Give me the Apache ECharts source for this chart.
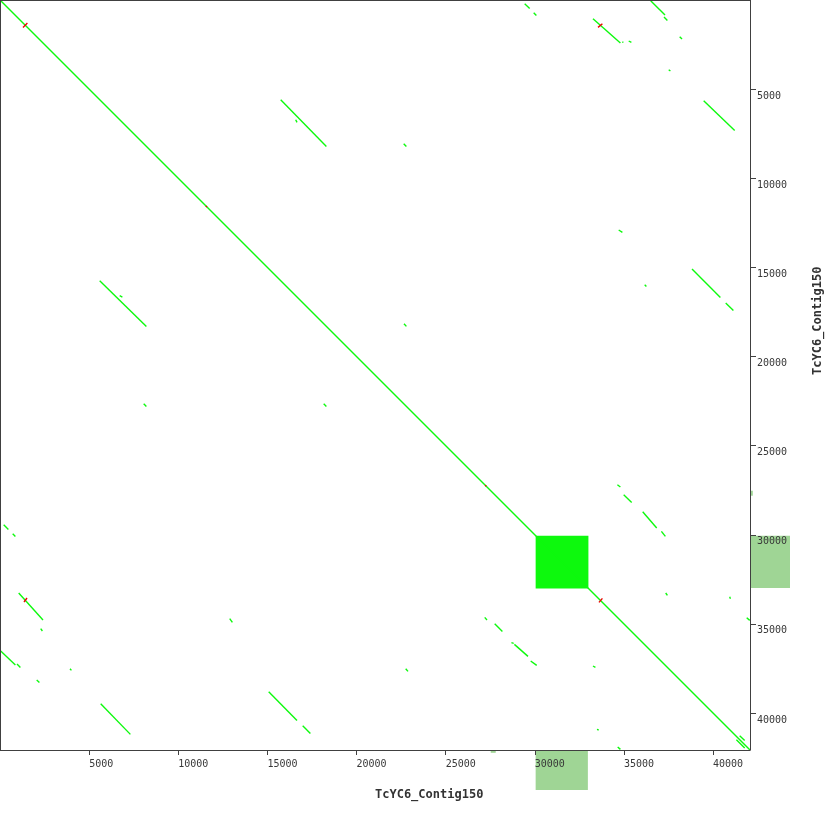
<!DOCTYPE html>
<html><head><meta charset="utf-8">
<script src="https://cdn.jsdelivr.net/npm/echarts@6/dist/echarts.min.js"></script>
<style>html,body{margin:0;padding:0;background:#fff}#c{width:830px;height:830px}</style>
</head><body><div id="c"></div>
<script>
// Sequence length (both axes: self comparison of TcYC6_Contig150)
const seqName = 'TcYC6_Contig150';
const seqLength = 42075;
const tickStep = 5000;

// Forward matches (green): [x1, y1, x2, y2]
const forwardHits = [
  [0, 0, 42075, 42075],
  [29435, 208, 29716, 471], [29940, 712, 30091, 864],
  [208, 29435, 471, 29700], [712, 29940, 864, 30091],
  [33267, 1049, 34804, 2412], [34920, 2330, 34960, 2390], [35270, 2300, 35421, 2379],
  [1049, 33267, 2412, 34782], [2283, 35270, 2379, 35399],
  [36504, 39, 37306, 842], [37250, 954, 37441, 1144],
  [39, 36520, 864, 37306], [954, 37250, 1144, 37441],
  [38131, 2059, 38260, 2188], [2059, 38148, 2210, 38283],
  [37514, 3910, 37610, 3983], [3927, 37514, 4006, 37610],
  [39477, 5649, 41216, 7315], [5649, 39477, 7315, 41199],
  [15747, 5593, 18311, 8213], [16589, 6715, 16662, 6866],
  [5593, 15747, 8213, 18311], [6715, 16589, 6866, 16662],
  [22647, 8062, 22798, 8213], [8062, 22647, 8213, 22798],
  [18159, 22647, 18311, 22798], [22664, 18159, 22798, 18311],
  [34709, 12903, 34916, 13037], [12886, 34709, 13037, 34916],
  [36168, 15972, 36263, 16067],
  [38821, 15091, 40414, 16684], [40712, 16998, 41144, 17413],
  [15074, 38805, 16662, 40414], [16981, 40712, 17413, 41144],
  [22759, 37514, 22889, 37666],
  [34636, 27192, 34804, 27321], [34989, 27753, 35438, 28185],
  [36055, 28707, 36841, 29621], [37104, 29812, 37329, 30093],
  [37346, 33267, 37441, 33402], [40936, 33475, 40975, 33587],
  [41890, 34653, 42060, 34804],
  [27192, 34636, 27321, 34782], [27753, 34989, 28185, 35421],
  [28690, 36055, 28819, 36094], [28858, 36150, 29621, 36824], [29772, 37082, 30109, 37329],
  [33267, 37363, 33402, 37441], [33492, 40919, 33587, 40953],
  [34653, 41906, 34804, 42040],
  [41312, 41497, 41778, 41963], [41497, 41273, 41778, 41537]
];

// Reverse matches (red): [x1, y1, x2, y2]
const reverseHits = [
  [1290, 1537, 1537, 1290],
  [33548, 1537, 33795, 1330],
  [1346, 33772, 1515, 33548],
  [33604, 33795, 33795, 33570],
  [11550, 11610, 11610, 11550],
  [27220, 27280, 27280, 27220]
];

// Dense self-match block (tandem repeat): [x1, y1, x2, y2]
const repeatBlocks = [[30050, 30050, 33010, 33010]];

// Annotation features along the sequence: [start, end, score]
const annotations = [[30050, 32980, 1.0], [27530, 27810, 0.07]];

const GREEN = '#0df90d', RED = '#f00000', ANNOT = '#9fd595', AXIS = '#404040';
const BAND = 40;

const chart = echarts.init(document.getElementById('c'), null, {renderer: 'canvas'});
const labelFont = {fontFamily: 'DejaVu Sans Mono', fontSize: 10, color: '#383838'};
const plain = v => String(v);

chart.setOption({
  animation: false,
  backgroundColor: '#ffffff',
  grid: {left: 0, top: 0, width: 750, height: 750, show: false},
  xAxis: {
    type: 'value', min: 0, max: seqLength, interval: tickStep, position: 'bottom', z: 10,
    axisLine: {show: true, onZero: false, lineStyle: {color: AXIS, width: 1}},
    axisTick: {show: true, length: 5, lineStyle: {color: AXIS}},
    axisLabel: Object.assign({showMinLabel: false, showMaxLabel: false, align: 'left', margin: 9, formatter: plain}, labelFont),
    splitLine: {show: false}
  },
  yAxis: {
    type: 'value', min: 0, max: seqLength, interval: tickStep, position: 'right', inverse: true, z: 10,
    axisLine: {show: true, onZero: false, lineStyle: {color: AXIS, width: 1}},
    axisTick: {show: true, length: 6, lineStyle: {color: AXIS}},
    axisLabel: Object.assign({showMinLabel: false, showMaxLabel: false, verticalAlign: 'top', margin: 7, padding: [2, 0, 0, 0], formatter: plain}, labelFont),
    splitLine: {show: false}
  },
  graphic: [
    {type: 'line', z: 20, shape: {x1: 0, y1: 0.5, x2: 750, y2: 0.5}, style: {stroke: AXIS, lineWidth: 1}},
    {type: 'line', z: 20, shape: {x1: 0.5, y1: 0, x2: 0.5, y2: 750}, style: {stroke: AXIS, lineWidth: 1}},
    {type: 'text', left: 375, top: 789, z: 20, style: {text: seqName, font: 'bold 12px "DejaVu Sans Mono"', fill: '#333'}},
    {type: 'text', x: 812, y: 375, rotation: Math.PI / 2, z: 20, style: {text: seqName, font: 'bold 12px "DejaVu Sans Mono"', fill: '#333', textVerticalAlign: 'top'}}
  ],
  series: [
    {
      type: 'custom', clip: false, silent: true, z: 1,
      data: annotations,
      renderItem: function (params, api) {
        const cs = params.coordSys;
        const a = api.coord([api.value(0), 0]);
        const b = api.coord([api.value(1), 0]);
        const h = api.value(2) * BAND;
        return {type: 'group', children: [
          {type: 'rect', shape: {x: a[0], y: cs.y + cs.height, width: b[0] - a[0], height: h}, style: {fill: ANNOT}},
          {type: 'rect', shape: {x: cs.x + cs.width, y: a[0] - cs.x + cs.y, width: h, height: b[0] - a[0]}, style: {fill: ANNOT}}
        ]};
      }
    },
    {
      type: 'custom', silent: true, z: 2,
      data: repeatBlocks,
      encode: {x: [0, 2], y: [1, 3]},
      renderItem: function (params, api) {
        const p1 = api.coord([api.value(0), api.value(1)]);
        const p2 = api.coord([api.value(2), api.value(3)]);
        return {type: 'rect', shape: {x: p1[0], y: p1[1], width: p2[0] - p1[0], height: p2[1] - p1[1]}, style: {fill: GREEN}};
      }
    },
    {
      type: 'lines', coordinateSystem: 'cartesian2d', silent: true, z: 3,
      lineStyle: {color: GREEN, width: 1.4, opacity: 1},
      data: forwardHits.map(h => ({coords: [[h[0], h[1]], [h[2], h[3]]]}))
    },
    {
      type: 'lines', coordinateSystem: 'cartesian2d', silent: true, z: 4,
      lineStyle: {color: RED, width: 1.4, opacity: 1},
      data: reverseHits.map(h => ({coords: [[h[0], h[1]], [h[2], h[3]]]}))
    }
  ]
});
</script></body></html>
